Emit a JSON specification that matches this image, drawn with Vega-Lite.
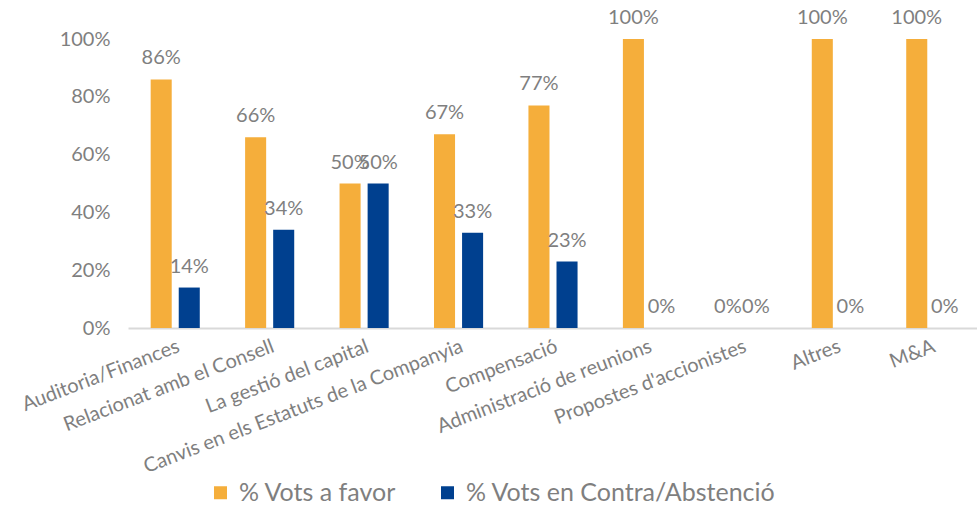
{
  "$schema": "https://vega.github.io/schema/vega-lite/v6.json",
  "width": 850,
  "height": 289,
  "padding": {"left": 18, "top": 8, "right": 0, "bottom": 0},
  "background": "white",
  "config": {"font": "Lato", "view": {"stroke": null}},
  "data": {
    "values": [
      {"cat": "Auditoria/Finances", "series": "% Vots a favor", "value": 0.86},
      {"cat": "Auditoria/Finances", "series": "% Vots en Contra/Abstenció", "value": 0.14},
      {"cat": "Relacionat amb el Consell", "series": "% Vots a favor", "value": 0.66},
      {"cat": "Relacionat amb el Consell", "series": "% Vots en Contra/Abstenció", "value": 0.34},
      {"cat": "La gestió del capital", "series": "% Vots a favor", "value": 0.50},
      {"cat": "La gestió del capital", "series": "% Vots en Contra/Abstenció", "value": 0.50},
      {"cat": "Canvis en els Estatuts de la Companyia", "series": "% Vots a favor", "value": 0.67},
      {"cat": "Canvis en els Estatuts de la Companyia", "series": "% Vots en Contra/Abstenció", "value": 0.33},
      {"cat": "Compensació", "series": "% Vots a favor", "value": 0.77},
      {"cat": "Compensació", "series": "% Vots en Contra/Abstenció", "value": 0.23},
      {"cat": "Administració de reunions", "series": "% Vots a favor", "value": 1.0},
      {"cat": "Administració de reunions", "series": "% Vots en Contra/Abstenció", "value": 0.0},
      {"cat": "Propostes d'accionistes", "series": "% Vots a favor", "value": 0.0},
      {"cat": "Propostes d'accionistes", "series": "% Vots en Contra/Abstenció", "value": 0.0},
      {"cat": "Altres", "series": "% Vots a favor", "value": 1.0},
      {"cat": "Altres", "series": "% Vots en Contra/Abstenció", "value": 0.0},
      {"cat": "M&A", "series": "% Vots a favor", "value": 1.0},
      {"cat": "M&A", "series": "% Vots en Contra/Abstenció", "value": 0.0}
    ]
  },
  "encoding": {
    "x": {
      "field": "cat", "type": "nominal", "sort": null,
      "scale": {"paddingInner": 0.48, "paddingOuter": 0.24},
      "axis": {
        "title": null, "ticks": false, "domainColor": "#D9D9D9", "domainWidth": 2,
        "labelAngle": -21, "labelFontSize": 20, "labelColor": "#7F7F7F",
        "labelPadding": 8, "labelLimit": 500, "labelOverlap": false
      }
    },
    "xOffset": {"field": "series", "type": "nominal", "sort": null, "scale": {"paddingInner": 0.25, "paddingOuter": 0}},
    "y": {
      "field": "value", "type": "quantitative",
      "scale": {"domain": [0, 1], "nice": false},
      "axis": {
        "title": null, "grid": false, "domain": false, "ticks": false,
        "values": [0, 0.2, 0.4, 0.6, 0.8, 1], "format": ".0%",
        "labelFontSize": 20, "labelColor": "#7F7F7F", "labelPadding": 18
      }
    }
  },
  "layer": [
    {
      "mark": {"type": "bar"},
      "encoding": {
        "color": {
          "field": "series", "type": "nominal",
          "scale": {"domain": ["% Vots a favor", "% Vots en Contra/Abstenció"], "range": ["#F5AE3B", "#00408F"]},
          "legend": {
            "title": null, "orient": "none", "legendX": 80, "legendY": 441,
            "direction": "horizontal",
            "symbolType": "square", "symbolSize": 169, "symbolStrokeWidth": 0,
            "labelFontSize": 25, "labelColor": "#7F7F7F", "columnPadding": 38,
            "labelOffset": 6, "labelLimit": 500
          }
        }
      }
    },
    {
      "mark": {"type": "text", "baseline": "alphabetic", "dy": -15, "fontSize": 20, "color": "#7F7F7F"},
      "encoding": {
        "text": {"field": "value", "type": "quantitative", "format": ".0%"}
      }
    }
  ]
}
